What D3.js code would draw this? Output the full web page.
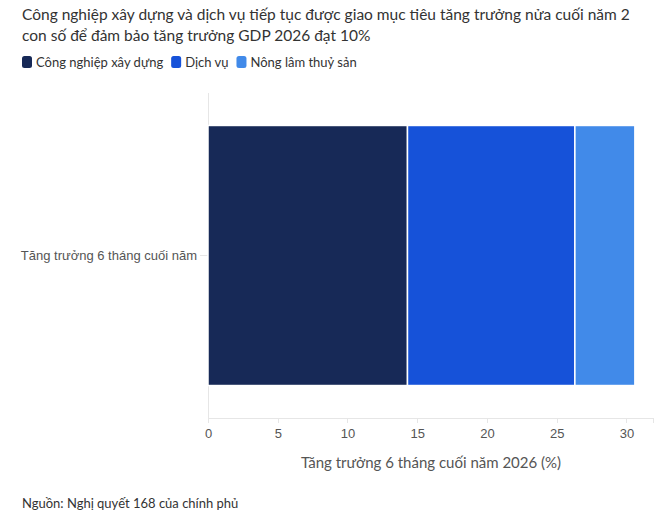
<!DOCTYPE html>
<meta charset="utf-8">
<style>
body { margin: 0; background: #fff; }
svg { font-family: "Lato", "Noto Sans", sans-serif; }
.axis text { font-size: 13px; fill: #555; }
.axis path, .axis line { stroke: #e6e6e6; shape-rendering: crispEdges; }
</style>
<body>
<script src="https://cdn.jsdelivr.net/npm/d3@7"></script>
<script>

var categories = ["Tăng trưởng 6 tháng cuối năm"];
var seriesNames = ["Công nghiệp xây dựng", "Dịch vụ", "Nông lâm thuỷ sản"];
var seriesValues = [14.3, 12.0, 4.3];
var colors = ["#172957", "#1652d9", "#418ae9"];
var xTicks = [0, 5, 10, 15, 20, 25, 30];

var W = 661, H = 515;
var margin = {top: 93, right: 8, bottom: 97, left: 208};
var width = W - margin.left - margin.right,
    height = H - margin.top - margin.bottom;

var svg = d3.select("body").append("svg")
    .attr("width", W)
    .attr("height", H);

// title
var title = svg.append("text")
    .attr("x", 22).attr("y", 20)
    .style("font-size", "15.5px").style("fill", "#333");
title.append("tspan").attr("x", 22).attr("dy", 0)
    .text("Công nghiệp xây dựng và dịch vụ tiếp tục được giao mục tiêu tăng trưởng nửa cuối năm 2");
title.append("tspan").attr("x", 22).attr("dy", 21)
    .text("con số để đảm bảo tăng trưởng GDP 2026 đạt 10%");

// legend
var lx = 22;
seriesNames.forEach(function(s, i) {
  var g = svg.append("g").attr("transform", "translate(" + lx + ",56)");
  g.append("rect").attr("width", 10).attr("height", 12).attr("rx", 2.5)
    .style("fill", colors[i]);
  var t = g.append("text").attr("x", 14).attr("y", 11)
    .style("font-size", "13px").style("fill", "#333").text(s);
  lx += 14 + t.node().getComputedTextLength() + 8;
});

var x = d3.scaleLinear().domain([0, 31.9]).range([0, width]);
var y = d3.scaleBand().domain(categories).range([0, height]).padding(0.111);

var chart = svg.append("g")
    .attr("transform", "translate(" + margin.left + "," + margin.top + ")");

chart.append("g")
    .attr("class", "x axis")
    .attr("transform", "translate(0," + height + ")")
    .call(d3.axisBottom(x).tickValues(xTicks).tickSize(5).tickPadding(6));

chart.append("g")
    .attr("class", "y axis")
    .call(d3.axisLeft(y).tickSize(8).tickPadding(3))
    .call(function(g) { g.select(".domain").attr("d", "M0,0V" + height); });

var stack = d3.stack().keys(d3.range(seriesNames.length))(
  categories.map(function() { return seriesValues; })
);

chart.selectAll("g.series")
  .data(stack)
  .enter().append("g")
    .attr("class", "series")
    .style("fill", function(d, i) { return colors[i]; })
  .selectAll("rect")
  .data(function(d) { return d; })
  .enter().append("rect")
    .attr("x", function(d) { return x(d[0]); })
    .attr("width", function(d) { return x(d[1]) - x(d[0]); })
    .attr("y", function(d, i) { return y(categories[i]); })
    .attr("height", y.bandwidth())
    .style("stroke", "#fff")
    .style("stroke-width", 1.5);

svg.append("text")
    .attr("x", 431).attr("y", 468)
    .attr("text-anchor", "middle")
    .style("font-size", "15px").style("fill", "#555")
    .text("Tăng trưởng 6 tháng cuối năm 2026 (%)");

svg.append("text")
    .attr("x", 22).attr("y", 508)
    .style("font-size", "13px").style("fill", "#333")
    .text("Nguồn: Nghị quyết 168 của chính phủ");

</script>
